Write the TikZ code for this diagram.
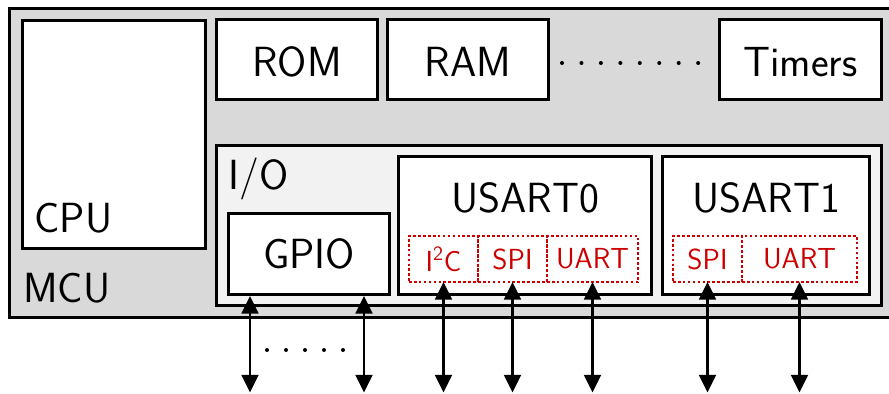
\documentclass[tikz,border=0pt]{standalone}
\usepackage{tikz}
\usetikzlibrary{arrows.meta, positioning, calc}
\definecolor{mcugray}{RGB}{217,217,217}
\definecolor{iogray}{RGB}{242,242,242}
\definecolor{busred}{RGB}{204,0,0}

\begin{document}
\begin{tikzpicture}[
  box/.style={draw, line width=1.7pt, fill=white, rectangle, inner sep=0pt, anchor=north west, font=\sffamily\fontsize{24}{28}\selectfont},
  lbl/.style={inner sep=0pt, font=\sffamily\fontsize{24}{28}\selectfont},
  sub/.style={draw=busred, text=busred, line width=1.6pt, dash pattern=on 1.5pt off 1.3pt, rectangle, inner sep=0pt, outer sep=0pt, anchor=north west, minimum height=0.92cm, font=\sffamily\fontsize{16.5}{19}\selectfont},
  bus/.style={arrows={Triangle[length=10pt,width=9.5pt]-Triangle[length=10pt,width=9.5pt]}, line width=1.5pt}
]
  \useasboundingbox (0,0) rectangle (17.78,7.88);
  \node[box, fill=mcugray, minimum width=17.61cm, minimum height=6.18cm] (mcu) at (0.16,7.74) {};
  \node[box, minimum width=3.66cm, minimum height=4.56cm] (cpu) at (0.42,7.50) {};
  \node[box, minimum width=3.22cm, minimum height=1.6cm, text height=0.7cm] (rom) at (4.30,7.52) {ROM};
  \node[box, minimum width=3.22cm, minimum height=1.6cm, text height=0.7cm] (ram) at (7.72,7.52) {RAM};
  \node[box, minimum width=3.24cm, minimum height=1.6cm, text height=0.7cm] (timers) at (14.36,7.52) {Timers};
  \node[box, fill=iogray, minimum width=13.30cm, minimum height=3.20cm] (io) at (4.30,5.00) {};
  \node[box, minimum width=3.22cm, minimum height=1.62cm] (gpio) at (4.54,3.64) {GPIO};
  \node[box, minimum width=5.06cm, minimum height=2.76cm] (usart0) at (7.94,4.78) {};
  \node[box, minimum width=4.14cm, minimum height=2.76cm] (usart1) at (13.22,4.78) {};

  \node[lbl, anchor=base west] (cpulbl) at (0.68,3.22) {CPU};
  \node[lbl, anchor=base west] (mculbl) at (0.46,1.82) {MCU};
  \node[lbl, anchor=base west] (iolbl) at (4.56,4.08) {I/O};
  \node[lbl, anchor=base] (usart0lbl) at (usart0.north |- 0,3.62) {USART0};
  \node[lbl, anchor=base] (usart1lbl) at (usart1.north |- 0,3.62) {USART1};

  \node[sub, minimum width=1.38cm] (i2c) at (8.18,3.16) {I\textsuperscript{2}C};
  \node[sub, minimum width=1.38cm, right=0pt of i2c] (spi0) {SPI};
  \node[sub, minimum width=1.82cm, right=0pt of spi0] (uart0) {UART};
  \node[sub, minimum width=1.38cm] (spi1) at (13.46,3.16) {SPI};
  \node[sub, minimum width=2.30cm, right=0pt of spi1] (uart1) {UART};

  \foreach \i in {0,...,7} \fill ({11.24+0.389*\i},6.62) circle (0.04);
  \foreach \i in {0,...,4} \fill ({5.34+0.38*\i},0.88) circle (0.04);

  \coordinate (floor) at (0,0.03);
  \coordinate (gp1) at (5.00,0.03);
  \coordinate (gp2) at (7.28,0.03);
  \draw[bus] (gp1 |- gpio.south) -- (gp1);
  \draw[bus] (gp2 |- gpio.south) -- (gp2);
  \foreach \p in {i2c,spi0,uart0,spi1,uart1} \draw[bus] (\p.south) -- (\p.south |- floor);
\end{tikzpicture}
\end{document}
